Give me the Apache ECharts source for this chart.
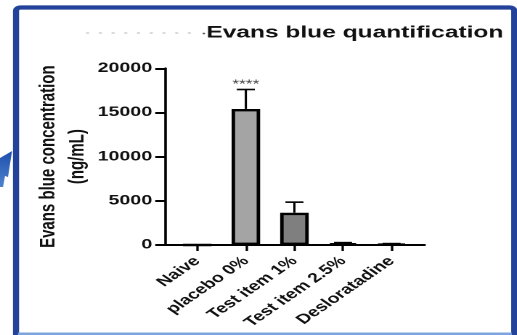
<!DOCTYPE html>
<html>
<head>
<meta charset="utf-8">
<script src="https://cdn.jsdelivr.net/npm/echarts@6/dist/echarts.min.js"></script>
<style>
  html, body { margin: 0; padding: 0; background: #ffffff; overflow: hidden; }
  #stage { position: relative; width: 517px; height: 335px; overflow: hidden; background: #ffffff; }
  #chart { position: absolute; left: 0; top: 0; height: 335px; transform-origin: 0 0; }
</style>
</head>
<body>
<div id="stage"><div id="chart"></div></div>
<script>
// Group names along the x axis
const categories = ['Naive', 'placebo 0%', 'Test item 1%', 'Test item 2.5%', 'Desloratadine'];
// Mean Evans blue concentration per group (ng/mL)
const meanValues = [0, 15400, 3650, 180, 110];
// Standard deviation per group (drawn upward from the mean)
const sdValues = [0, 2200, 1200, 90, 50];
// Significance marks printed above the error bars
const significance = ['', '****', '', '', ''];
// Y-axis tick values
const yTicks = [0, 5000, 10000, 15000, 20000];
// Bar fill colours
const barFills = ['#a4a4a4', '#a4a4a4', '#7f7f7f', '#7f7f7f', '#a4a4a4'];

// The figure is laid out in a narrower space and widened horizontally,
// which gives the wide lettering of the printed figure.
const SX = 1.45;
const W = 517 / SX;
const X = v => v / SX;

const el = document.getElementById('chart');
el.style.width = W + 'px';
el.style.transform = 'scaleX(' + SX + ')';

const chart = echarts.init(el, null, { width: W, height: 335, devicePixelRatio: 2 });

const FONT = "'Liberation Sans', Arial, Helvetica, sans-serif";
const plotTop = 68.3;
const plotHeight = 176.7;

const errorData = categories.map((c, i) => [i, meanValues[i], sdValues[i]]);

chart.setOption({
  animation: false,
  backgroundColor: '#ffffff',
  title: {
    text: 'Evans blue quantification',
    left: X(206),
    top: 24.5,
    padding: 0,
    textStyle: { fontFamily: FONT, fontWeight: 'bold', fontSize: 16.9, color: '#111111' }
  },
  grid: [
    { left: X(172.75), width: X(242.5), top: plotTop, height: plotHeight },
    { left: X(165), width: X(259), top: plotTop, height: plotHeight }
  ],
  xAxis: [
    {
      type: 'category',
      gridIndex: 0,
      data: categories,
      axisLine: { show: false },
      axisTick: { show: true, alignWithLabel: true, length: 6, lineStyle: { color: '#000', width: X(2.4) } },
      axisLabel: {
        interval: 0, rotate: 45, margin: 14,
        fontFamily: FONT, fontWeight: 'bold', fontSize: 13.5, color: '#111111'
      },
      splitLine: { show: false }
    },
    {
      type: 'value',
      gridIndex: 1,
      min: 0, max: 1,
      axisLine: { show: true, lineStyle: { color: '#000', width: 2 } },
      axisTick: { show: false },
      axisLabel: { show: false },
      splitLine: { show: false }
    }
  ],
  yAxis: [
    {
      type: 'value',
      gridIndex: 0,
      min: yTicks[0],
      max: yTicks[yTicks.length - 1],
      interval: yTicks[1] - yTicks[0],
      offset: X(7.75),
      axisLine: { show: true, lineStyle: { color: '#000', width: X(2.6) } },
      axisTick: { show: true, length: X(10), lineStyle: { color: '#000', width: 2 } },
      axisLabel: {
        margin: X(13), fontFamily: FONT, fontWeight: 'bold', fontSize: 13.5, color: '#111111',
        formatter: v => String(v)
      },
      splitLine: { show: false },
      name: 'Evans blue concentration\n(ng/mL)',
      nameLocation: 'middle',
      nameRotate: 90,
      nameGap: X(71),
      nameTextStyle: { fontFamily: FONT, fontWeight: 'bold', fontSize: 15, lineHeight: X(29), color: '#111111' }
    },
    {
      type: 'value',
      gridIndex: 1,
      min: yTicks[0],
      max: yTicks[yTicks.length - 1],
      show: false
    }
  ],
  series: [
    {
      type: 'bar',
      xAxisIndex: 0,
      yAxisIndex: 0,
      barWidth: X(28.5),
      data: meanValues.map((v, i) => ({
        value: v,
        itemStyle: { color: barFills[i], borderColor: '#000', borderWidth: 2.4 }
      })),
      z: 2
    },
    {
      type: 'custom',
      xAxisIndex: 0,
      yAxisIndex: 0,
      data: errorData,
      z: 3,
      renderItem: function (params, api) {
        const idx = api.value(0);
        const mean = api.value(1);
        const sd = api.value(2);
        const base = api.coord([idx, mean]);
        const top = api.coord([idx, mean + sd]);
        const half = X(9);
        const children = [];
        if (sd > 0) {
          children.push({
            type: 'line',
            shape: { x1: top[0], y1: base[1], x2: top[0], y2: top[1] },
            style: { stroke: '#000', lineWidth: X(2.2) }
          });
          children.push({
            type: 'line',
            shape: { x1: top[0] - half, y1: top[1], x2: top[0] + half, y2: top[1] },
            style: { stroke: '#000', lineWidth: 1.6 }
          });
        }
        const mark = significance[params.dataIndex];
        if (mark) {
          children.push({
            type: 'text',
            style: {
              text: mark, x: top[0], y: top[1] - 5,
              align: 'center', verticalAlign: 'middle',
              font: '12px ' + FONT, fill: '#444444'
            }
          });
        }
        return { type: 'group', children: children };
      }
    }
  ],
  graphic: [
    // blue frame around the panel
    {
      type: 'rect',
      shape: { x: X(16), y: 7.5, width: X(513.5 - 16), height: 340, r: 3 },
      style: { fill: 'none', stroke: '#23439a', lineWidth: 4.2 },
      z: 10
    },
    {
      type: 'line',
      shape: { x1: X(18), y1: 333.8, x2: X(511), y2: 333.8 },
      style: { stroke: '#7da4dc', lineWidth: 2.6 },
      z: 11
    },
    // dotted leader before the heading
    {
      type: 'line',
      shape: { x1: X(86), y1: 33, x2: X(200), y2: 33 },
      style: { stroke: '#cfcfcf', lineWidth: 1.6, lineDash: [X(3), X(9.7)] },
      z: 10
    },
    {
      type: 'circle',
      shape: { cx: X(203.5), cy: 33.5, r: 0.9 },
      style: { fill: '#555555' },
      z: 10
    },
    // arrow head entering from the left
    {
      type: 'polygon',
      shape: { points: [[X(12), 151], [X(0), 158], [X(0), 187], [X(3), 187], [X(5), 176], [X(8), 177]] },
      style: {
        fill: new echarts.graphic.LinearGradient(1, 0, 0, 1, [
          { offset: 0, color: '#1d4fae' },
          { offset: 1, color: '#4f82cc' }
        ])
      },
      z: 10
    }
  ]
});
</script>
</body>
</html>
